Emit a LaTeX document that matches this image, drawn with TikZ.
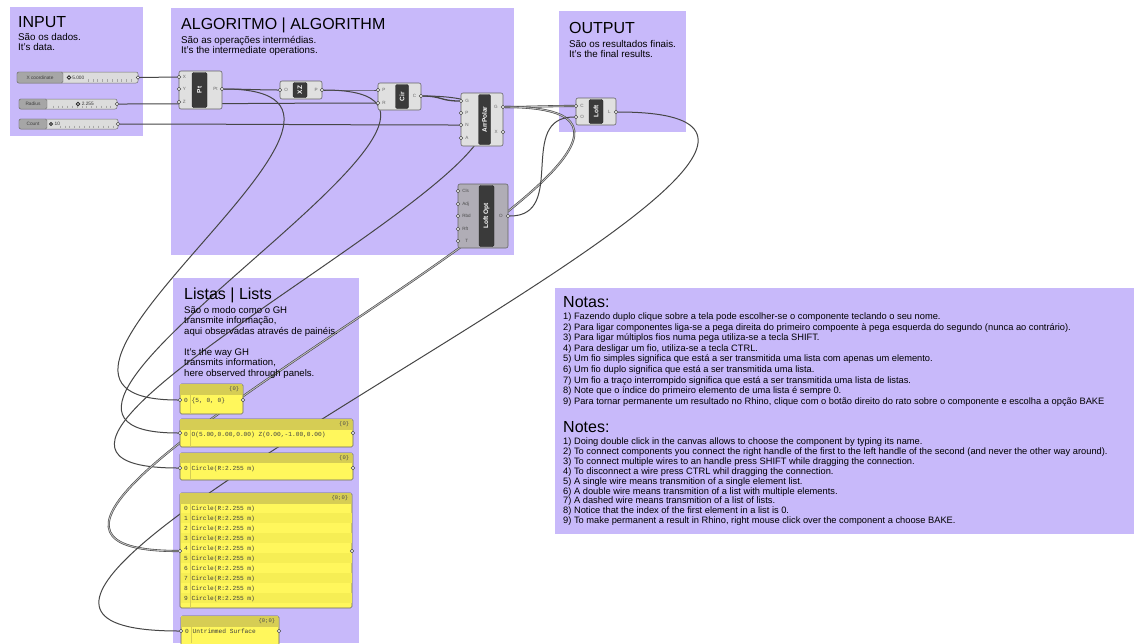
\documentclass[tikz,border=0pt]{standalone}
\usepackage{fontspec}
\setmainfont{Liberation Sans}
\setmonofont{Liberation Mono}
\usetikzlibrary{positioning}
\definecolor{grplila}{RGB}{200,185,250}
\definecolor{compgray}{RGB}{224,224,224}
\definecolor{optgray}{RGB}{176,173,182}
\definecolor{compdark}{RGB}{58,58,58}
\definecolor{wiregray}{RGB}{70,70,70}
\definecolor{panelyel}{RGB}{255,247,92}
\definecolor{panelstripe}{RGB}{246,238,84}
\definecolor{panelhead}{RGB}{214,205,84}
\definecolor{slidegray}{RGB}{220,220,220}
\definecolor{slidelabel}{RGB}{166,166,166}
\pgfdeclarelayer{groups}
\pgfdeclarelayer{wires}
\pgfsetlayers{groups,wires,main}
\tikzset{
	grp/.style={fill=grplila, draw=none},
	grptitle/.style={anchor=base west, inner sep=0pt, font=\fontsize{16}{18}\selectfont},
	grptext/.style={anchor=north west, inner sep=0pt, align=left, font=\fontsize{9.8}{10.3}\selectfont},
	notetext/.style={anchor=base west, inner sep=0pt, font=\fontsize{9.3}{10}\selectfont},
	comp/.style={rectangle, rounded corners=2pt, draw=black!60, fill=compgray, line width=0.6pt, inner sep=0pt},
	compband/.style={rectangle, rounded corners=1.5pt, draw=black!85, fill=compdark, line width=0.4pt, inner sep=0pt},
	bandlabel/.style={rotate=90, text=white, inner sep=0pt, font=\bfseries\fontsize{6.5}{7}\selectfont},
	plabel/.style={inner sep=0pt, text=black!60, font=\fontsize{4.6}{5}\selectfont},
	grip/.style={circle, draw=black!75, fill=white, line width=0.5pt, minimum size=3.6pt, inner sep=0pt},
	knob/.style={circle, draw=black!85, fill=white, line width=0.8pt, minimum size=3.4pt, inner sep=0pt},
	wire/.style={draw=wiregray, line width=1pt},
	listwire/.style={draw=wiregray, line width=0.6pt, double=black!25, double distance=0.9pt},
	slider/.style={rectangle, rounded corners=2pt, draw=black!55, fill=slidegray, line width=0.5pt, inner sep=0pt},
	slidename/.style={rectangle, rounded corners=1.5pt, draw=black!55, fill=slidelabel, line width=0.4pt, inner sep=0pt, text=black!75, font=\fontsize{4.8}{5}\selectfont},
	slidevalue/.style={inner sep=0pt, text=black!80, font=\fontsize{4.8}{5}\selectfont},
	panel/.style={rectangle, rounded corners=1.5pt, draw=black!60, fill=panelyel, line width=0.6pt, inner sep=0pt},
	phead/.style={anchor=east, inner sep=0pt, text=black!70, font=\ttfamily\fontsize{5.5}{6}\selectfont},
	ptext/.style={anchor=west, inner sep=0pt, text=black!75, font=\ttfamily\fontsize{6.2}{7}\selectfont},
}

\begin{document}
\begin{tikzpicture}[x=1pt, y=-1pt, node distance=1.5pt]
	\useasboundingbox (0,0) rectangle (1134,643);

	% groups
	\begin{pgfonlayer}{groups}
		\fill[white] (0,0) rectangle (1134,643);
		\fill[grp] (10,7) rectangle (143,136);
		\fill[grp] (171,8) rectangle (514,255);
		\fill[grp] (559,11) rectangle (686,132);
		\fill[grp] (173,278) rectangle (359,643);
		\fill[grp] (555,288) rectangle (1134,534);
	\end{pgfonlayer}

	\node[grptitle] (tin) at (18,27.5) {INPUT};
	\node[grptext] (sin) at (18,33) {São os dados.\\It's data.};
	\node[grptitle] (talg) at (181,29) {ALGORITMO | ALGORITHM};
	\node[grptext] (salg) at (181,36) {São as operações intermédias.\\It's the intermediate operations.};
	\node[grptitle] (tout) at (569,33) {OUTPUT};
	\node[grptext] (sout) at (569,40) {São os resultados finais.\\It's the final results.};
	\node[grptitle] (tlist) at (184,299) {Listas | Lists};
	\node[grptext, font=\fontsize{9.6}{10.5}\selectfont] (slist) at (184,306) {São o modo como o GH\\transmite informação,\\aqui observadas através de painéis.\\[10.5pt]It's the way GH\\transmits information,\\here observed through panels.};

	% notes
	\node[grptitle] (tnotas) at (563,307) {Notas:};
	\foreach \t [count=\i] in {
		{1) Fazendo duplo clique sobre a tela pode escolher-se o componente teclando o seu nome.},
		{2) Para ligar componentes liga-se a pega direita do primeiro compoente à pega esquerda do segundo (nunca ao contrário).},
		{3) Para ligar múltiplos fios numa pega utiliza-se a tecla SHIFT.},
		{4) Para desligar um fio, utiliza-se a tecla CTRL.},
		{5) Um fio simples significa que está a ser transmitida uma lista com apenas um elemento.},
		{6) Um fio duplo significa que está a ser transmitida uma lista.},
		{7) Um fio a traço interrompido significa que está a ser transmitida uma lista de listas.},
		{8) Note que o índice do primeiro elemento de uma lista é sempre 0.},
		{9) Para tornar permanente um resultado no Rhino, clique com o botão direito do rato sobre o componente e escolha a opção BAKE}}
		\node[notetext] (nota\i) at (563,{308.9+10.6*\i}) {\t};
	\node[grptitle] (tnotes) at (563,432) {Notes:};
	\foreach \t [count=\i] in {
		{1) Doing double click in the canvas allows to choose the component by typing its name.},
		{2) To connect components you connect the right handle of the first to the left handle of the second (and never the other way around).},
		{3) To connect multiple wires to an handle press SHIFT while dragging the connection.},
		{4) To disconnect a wire press CTRL whil dragging the connection.},
		{5) A single wire means transmition of a single element list.},
		{6) A double wire means transmition of a list with multiple elements.},
		{7) A dashed wire means transmition of a list of lists.},
		{8) Notice that the index of the first element in a list is 0.},
		{9) To make permanent a result in Rhino, right mouse click over the component a choose BAKE.}}
		\node[notetext] (note\i) at (563,{434.6+9.9*\i}) {\t};

	% sliders
	\node[slider, minimum width=121pt, minimum height=11pt] (xslide) at (77.5,77.5) {};
	\node[slidename, minimum width=46pt, minimum height=11pt] (xname) at (40,77.5) {X coordinate};
	\foreach \k in {0,...,9} \draw[black!35, line width=0.4pt] ({88+4.8*\k},79) -- ++(0,2.5);
	\node[knob] (xknob) at (69,77.5) {};
	\node[slidevalue, right=1pt of xknob] (xval) {5.000};
	\node[grip] (xgrip) at (138,77.5) {};

	\node[slider, minimum width=98pt, minimum height=10pt] (rslide) at (68,104) {};
	\node[slidename, minimum width=28pt, minimum height=10pt] (rname) at (33,104) {Radius};
	\foreach \k in {0,...,12} \draw[black!35, line width=0.4pt] ({53+4.8*\k},105.5) -- ++(0,2.3);
	\node[knob] (rknob) at (78,104) {};
	\node[slidevalue, right=1pt of rknob, fill=slidegray, inner sep=0.5pt] (rval) {2.255};
	\node[grip] (rgrip) at (117,104) {};

	\node[slider, minimum width=99pt, minimum height=10pt] (cslide) at (68.5,124) {};
	\node[slidename, minimum width=28pt, minimum height=10pt] (cname) at (33,124) {Count};
	\foreach \k in {0,...,11} \draw[black!35, line width=0.4pt] ({60+4.8*\k},125.5) -- ++(0,2.3);
	\node[knob, minimum size=3pt] (cknob) at (51,124) {};
	\node[slidevalue, right=1pt of cknob, fill=slidegray, inner sep=0.5pt] (cval) {10};
	\node[grip] (cgrip) at (118,124) {};

	% components
	\node[comp, minimum width=43pt, minimum height=38pt] (pt) at (200.5,90) {};
	\node[compband, minimum width=15pt, minimum height=35pt] (ptband) at (199.5,90) {};
	\node[bandlabel] (ptname) at (ptband) {Pt};
	\node[grip] (ptX) at (179,77) {};
	\node[grip] (ptY) at (179,89) {};
	\node[grip] (ptZ) at (179,102) {};
	\node[grip] (ptOut) at (222,89) {};
	\node[plabel, right=of ptX] (lptX) {X};
	\node[plabel, right=of ptY] (lptY) {Y};
	\node[plabel, right=of ptZ] (lptZ) {Z};
	\node[plabel, left=2pt of ptOut] (lptOut) {Pt};

	\node[comp, minimum width=42pt, minimum height=18pt] (xz) at (301,90) {};
	\node[compband, minimum width=14pt, minimum height=15pt] (xzband) at (300,90) {};
	\node[bandlabel] (xzname) at (xzband) {XZ};
	\node[grip] (xzO) at (280,90) {};
	\node[grip] (xzP) at (322,90) {};
	\node[plabel, right=2pt of xzO] (lxzO) {O};
	\node[plabel, left=2pt of xzP] (lxzP) {P};

	\node[comp, minimum width=43pt, minimum height=27pt] (cir) at (399.5,96.5) {};
	\node[compband, minimum width=13pt, minimum height=24pt] (cirband) at (402,96.5) {};
	\node[bandlabel] (cirname) at (cirband) {Cir};
	\node[grip] (cirP) at (378,90) {};
	\node[grip] (cirR) at (378,103) {};
	\node[grip] (cirC) at (421,96) {};
	\node[plabel, right=2pt of cirP] (lcirP) {P};
	\node[plabel, right=2pt of cirR] (lcirR) {R};
	\node[plabel, left=2.5pt of cirC] (lcirC) {C};

	\node[comp, minimum width=42pt, minimum height=53pt] (arr) at (482,119.5) {};
	\node[compband, minimum width=12pt, minimum height=50pt] (arrband) at (484.5,119.5) {};
	\node[bandlabel] (arrname) at (arrband) {ArrPolar};
	\node[grip] (arrG) at (461,101) {};
	\node[grip] (arrP) at (461,113) {};
	\node[grip] (arrN) at (461,125) {};
	\node[grip] (arrA) at (461,138) {};
	\node[grip] (arrGo) at (503,107) {};
	\node[grip] (arrX) at (503,132) {};
	\node[plabel, right=2pt of arrG] (larrG) {G};
	\node[plabel, right=2pt of arrP] (larrP) {P};
	\node[plabel, right=2pt of arrN] (larrN) {N};
	\node[plabel, right=2pt of arrA] (larrA) {A};
	\node[plabel, left=3pt of arrGo] (larrGo) {G};
	\node[plabel, left=3pt of arrX] (larrX) {X};

	\node[comp, fill=optgray, minimum width=50pt, minimum height=64pt] (lopt) at (483,216) {};
	\node[compband, minimum width=15pt, minimum height=61pt] (loptband) at (486.5,216) {};
	\node[bandlabel] (loptname) at (loptband) {Loft Opt};
	\node[grip] (loptCls) at (458,191) {};
	\node[grip] (loptAdj) at (458,204) {};
	\node[grip] (loptRbd) at (458,216) {};
	\node[grip] (loptRft) at (458,229) {};
	\node[grip] (loptT) at (458,241) {};
	\node[grip] (loptO) at (508,216) {};
	\node[plabel, text=black!70, right=2pt of loptCls] (lloptCls) {Cls};
	\node[plabel, text=black!70, right=2pt of loptAdj] (lloptAdj) {Adj};
	\node[plabel, text=black!70, right=2pt of loptRbd] (lloptRbd) {Rbd};
	\node[plabel, text=black!70, right=2pt of loptRft] (lloptRft) {Rft};
	\node[plabel, text=black!70, right=5pt of loptT] (lloptT) {T};
	\node[plabel, text=black!70, left=3pt of loptO] (lloptO) {O};

	\node[comp, minimum width=40pt, minimum height=27pt] (loft) at (596,111.5) {};
	\node[compband, minimum width=14pt, minimum height=24pt] (loftband) at (596,111.5) {};
	\node[bandlabel] (loftname) at (loftband) {Loft};
	\node[grip] (loftC) at (576,106) {};
	\node[grip] (loftO) at (576,117) {};
	\node[grip] (loftL) at (616,112) {};
	\node[plabel, right=2pt of loftC] (lloftC) {C};
	\node[plabel, right=2pt of loftO] (lloftO) {O};
	\node[plabel, left=3pt of loftL] (lloftL) {L};

	% panels
	\node[panel, minimum width=63pt, minimum height=30pt] (pan1) at (211.5,399) {};
	\fill[panelhead] ([shift={(0.3pt,-0.3pt)}]pan1.north west) rectangle ++(62.4,10.7);
	\draw[panelhead, line width=0.6pt] (190,395) -- (190,413.5);
	\node[phead] (h1) at ([shift={(-4pt,-5.5pt)}]pan1.north east) {\{0\}};
	\node[ptext] (r1) at (184,400.5) {0 \{5, 0, 0\}};
	\node[grip] (pan1in) at (180,400) {};
	\node[grip] (pan1out) at (243,400) {};

	\node[panel, minimum width=173pt, minimum height=28pt] (pan2) at (266.5,433) {};
	\fill[panelhead] ([shift={(0.3pt,-0.3pt)}]pan2.north west) rectangle ++(172.4,10.7);
	\draw[panelhead, line width=0.6pt] (190,430) -- (190,446.5);
	\node[phead] (h2) at ([shift={(-4pt,-5.5pt)}]pan2.north east) {\{0\}};
	\node[ptext] (r2) at (184,434.5) {0 O(5.00,0.00,0.00) Z(0.00,-1.00,0.00)};
	\node[grip] (pan2in) at (180,433) {};
	\node[grip] (pan2out) at (353,433) {};

	\node[panel, minimum width=173pt, minimum height=27pt] (pan3) at (266.5,466.5) {};
	\fill[panelhead] ([shift={(0.3pt,-0.3pt)}]pan3.north west) rectangle ++(172.4,10);
	\draw[panelhead, line width=0.6pt] (190,463) -- (190,479.5);
	\node[phead] (h3) at ([shift={(-4pt,-5pt)}]pan3.north east) {\{0\}};
	\node[ptext] (r3) at (184,468.5) {0 Circle(R:2.255 m)};
	\node[grip] (pan3in) at (180,468) {};
	\node[grip] (pan3out) at (353,468) {};

	\node[panel, minimum width=172pt, minimum height=115pt] (pan4) at (266,550.5) {};
	\fill[panelhead] ([shift={(0.3pt,-0.3pt)}]pan4.north west) rectangle ++(171.4,10.7);
	\foreach \k in {1,3,5,7,9} \fill[panelstripe] (180.5,{503+10*\k}) rectangle (351.5,{513+10*\k});
	\draw[panelhead, line width=0.6pt] (190,504) -- (190,607.5);
	\node[phead] (h4) at ([shift={(-4pt,-5.5pt)}]pan4.north east) {\{0;0\}};
	\foreach \k in {0,...,9} \node[ptext] (row\k) at (184,{508.5+10*\k}) {\k\ Circle(R:2.255 m)};
	\node[grip] (pan4in) at (180,551) {};
	\node[grip] (pan4out) at (352,551) {};

	\node[panel, minimum width=98pt, minimum height=40pt] (pan5) at (230,636) {};
	\fill[panelhead] ([shift={(0.3pt,-0.3pt)}]pan5.north west) rectangle ++(97.4,10.7);
	\draw[panelhead, line width=0.6pt] (191,627) -- (191,643);
	\node[phead] (h5) at ([shift={(-4pt,-5.5pt)}]pan5.north east) {\{0;0\}};
	\node[ptext] (r5) at (185,631.5) {0 Untrimmed Surface};
	\node[grip] (pan5in) at (181,631) {};
	\node[grip] (pan5out) at (279,631) {};

	% wires
	\begin{pgfonlayer}{wires}
		\draw[wire] (xgrip) .. controls +(20,0) and +(-20,0) .. (ptX);
		\draw[wire] (rgrip) .. controls +(80,0) and +(-80,0) .. (cirR);
		\draw[wire] (cgrip) .. controls +(100,0) and +(-100,0) .. (arrN);
		\draw[wire] (ptOut) .. controls +(20,0) and +(-20,0) .. (xzO);
		\draw[wire] (ptOut) .. controls +(227,0) and +(-227,0) .. (pan1in);
		\draw[wire] (xzP) .. controls +(20,0) and +(-20,0) .. (cirP);
		\draw[wire] (xzP) .. controls +(245,0) and +(-245,0) .. (pan2in);
		\draw[wire, line width=1.3pt] (cirC) .. controls +(20,0) and +(-20,0) .. (arrG);
		\draw[wire] (cirC) .. controls +(295,0) and +(-295,0) .. (pan3in);
		\draw[listwire] (arrGo) .. controls +(30,0) and +(-30,0) .. (loftC);
		\draw[listwire] (arrGo) .. controls +(335,0) and +(-335,0) .. (pan4in);
		\draw[wire] (loptO) .. controls +(60,0) and +(-60,0) .. (loftO);
		\draw[wire] (loftL) .. controls +(400,0) and +(-400,0) .. (pan5in);
	\end{pgfonlayer}
\end{tikzpicture}
\end{document}
